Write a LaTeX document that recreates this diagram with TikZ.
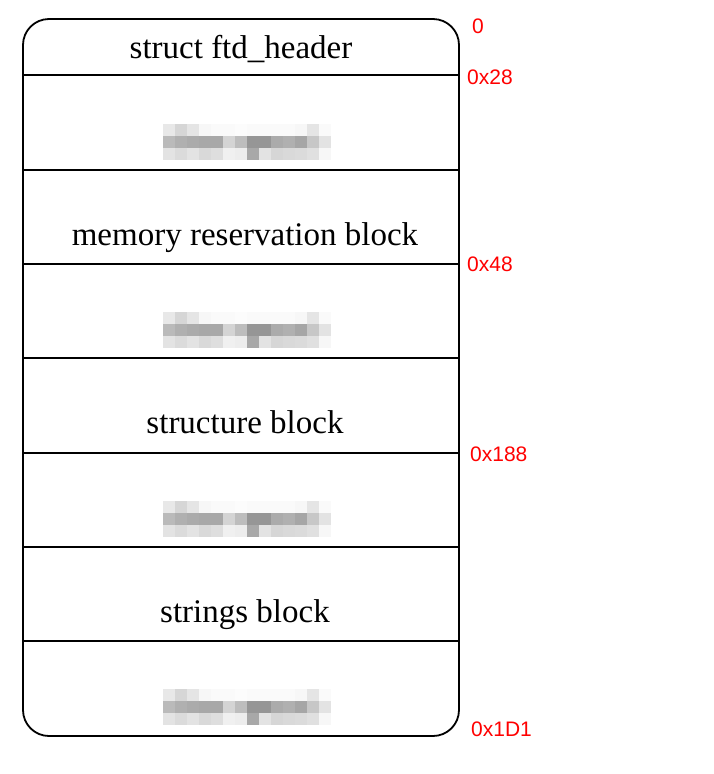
\documentclass[tikz,border=0pt]{standalone}
\usepackage{fontspec}
\setmainfont{Liberation Serif}
\newfontfamily\lblfont{Liberation Sans}
\tikzset{
  x=1pt, y=-1pt,
  frame/.style={line width=1.8pt, black},
  sep/.style={line width=1.6pt, black},
  title/.style={anchor=base, inner sep=0pt, font=\fontsize{33}{40}\selectfont},
  offs/.style={anchor=base west, inner sep=0pt, text=red, font=\lblfont\fontsize{21}{25}\selectfont},
  blob/.pic={
    \foreach \v [count=\i from 0] in {9,16,10,3,2,2,1,2,2,2,2,3,10,2}
      \fill[black!\v] (12*\i,0) rectangle ++(12,12);
    \foreach \v [count=\i from 0] in {27,31,33,34,34,17,26,41,41,33,31,35,22,11}
      \fill[black!\v] (12*\i,12) rectangle ++(12,12);
    \foreach \v [count=\i from 0] in {11,14,11,15,13,6,7,34,11,16,15,14,12,3}
      \fill[black!\v] (12*\i,24) rectangle ++(12,12);
  }
}
\begin{document}
\begin{tikzpicture}
\useasboundingbox (0,0) rectangle (713,774);
% outer frame
\draw[frame, rounded corners=26pt] (23,19) rectangle (459,736);
% separators
\foreach \yy in {75,170,264,358,453,547,641}
  \draw[sep] (23,\yy) -- (459,\yy);
% titles
\node[title] (hdr) at (241,58) {struct ftd\_header};
\node[title] (mrb) at (245,245) {memory reservation block};
\node[title] (stb) at (245,433) {structure block};
\node[title] (strb) at (245,622) {strings block};
% blurred placeholders
\pic at (163,124) {blob};
\pic at (163,312) {blob};
\pic at (163,501) {blob};
\pic at (163,689) {blob};
% offsets
\node[offs] (o0) at (472,33) {0};
\node[offs] (o1) at (467,84) {0x28};
\node[offs] (o2) at (467,271) {0x48};
\node[offs] (o3) at (470,461) {0x188};
\node[offs] (o4) at (471,736) {0x1D1};
\end{tikzpicture}
\end{document}
